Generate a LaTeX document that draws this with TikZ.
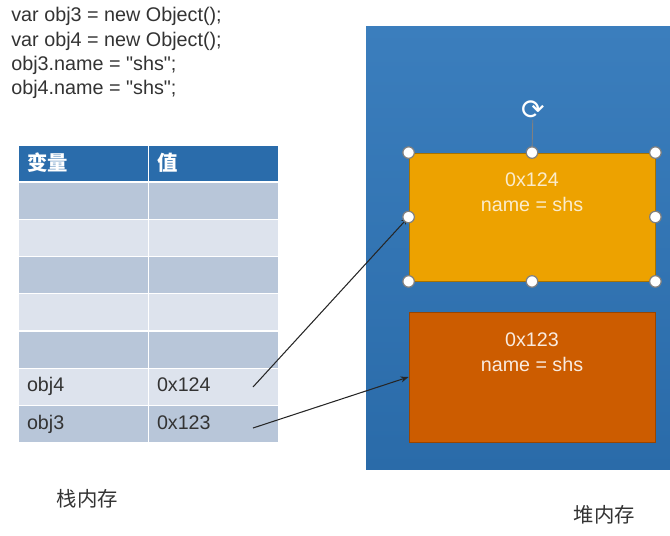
\documentclass[tikz,border=0pt]{standalone}
\usepackage{fontspec}
\setmainfont{Liberation Sans}
\newfontfamily\codefont{Liberation Sans}
\newfontfamily\cjk{Noto Sans CJK SC}
\newfontfamily\symb{DejaVu Sans}
\usepackage{xcolor}
\usetikzlibrary{arrows.meta,calc}
\definecolor{hdrblue}{HTML}{2A6CAB}
\definecolor{rowdark}{HTML}{B8C6D9}
\definecolor{rowlight}{HTML}{DDE3ED}
\definecolor{txtgray}{HTML}{333333}
\definecolor{heaptop}{HTML}{3B7EBD}
\definecolor{heapbot}{HTML}{2A6BA9}
\definecolor{objyellow}{HTML}{EDA200}
\definecolor{objorange}{HTML}{CC5C00}

\begin{document}
\begin{tikzpicture}[x=0.02cm,y=-0.02cm,
  cell/.style={inner xsep=1.6mm,inner ysep=0pt,text width=22.6mm,align=left,
            minimum height=7.2mm,text height=2.9mm,text depth=0.8mm,
            font=\fontsize{11.2}{12}\selectfont,text=txtgray},
  hdr/.style={cell,fill=hdrblue,text=white,text height=3.3mm,text depth=0.4mm,
            font=\cjk\fontsize{11.6}{12}\selectfont\bfseries},
  dk/.style={cell,fill=rowdark},
  lt/.style={cell,fill=rowlight},
  objbox/.style={minimum width=49.2mm,rectangle,inner sep=0pt},
  objtxt/.style={align=center,font=\fontsize{11.2}{14.2}\selectfont},
  hnd/.style={circle,draw=gray,fill=white,line width=0.7pt,minimum size=2.3mm,inner sep=0pt},
  lbl/.style={font=\cjk\fontsize{11.6}{12}\selectfont,text=txtgray},
  arr/.style={-{Stealth[length=1.6mm]},draw=black!85,line width=0.6pt}]
\useasboundingbox (0,0) rectangle (670,535);
\node[anchor=north west,inner sep=0pt,align=left,text=txtgray,
      font=\codefont\fontsize{11.25}{13.9}\selectfont] (code) at (11,7)
  {var obj3 = new Object();\\ var obj4 = new Object();\\
   obj3.name = "shs";\\ obj4.name = "shs";};
% stack table
\node[hdr,minimum height=7mm] (hvar) at (83.5,163.5) {变量};
\node[hdr,minimum height=7mm] (hval) at (213.5,163.5) {值};
\node[dk] (a1) at (83.5,201) {};   \node[dk] (b1) at (213.5,201) {};
\node[lt] (a2) at (83.5,238) {};   \node[lt] (b2) at (213.5,238) {};
\node[dk] (a3) at (83.5,275) {};   \node[dk] (b3) at (213.5,275) {};
\node[lt] (a4) at (83.5,312) {};   \node[lt] (b4) at (213.5,312) {};
\node[dk] (a5) at (83.5,349.5) {}; \node[dk] (b5) at (213.5,349.5) {};
\node[lt] (a6) at (83.5,386.5) {obj4}; \node[lt] (b6) at (213.5,386.5) {0x124};
\node[dk] (a7) at (83.5,424) {obj3};   \node[dk] (b7) at (213.5,424) {0x123};
\node[lbl] (stack) at (87.5,499) {栈内存};
% heap
\node[rectangle,top color=heaptop,bottom color=heapbot,
      minimum width=60.8mm,minimum height=88.8mm,inner sep=0pt] (heap) at (518,248) {};
\node[lbl] (heaplbl) at (604.5,515) {堆内存};
\node[objbox,fill=objyellow,draw=objyellow!70!black,line width=0.5pt,minimum height=25.6mm] (ob) at (532,217) {};
\node[objtxt,text=white!80!objyellow] (obt) at (532,192.5) {0x124\\ name = shs};
\node[objbox,fill=objorange,draw=objorange!75!black,line width=0.5pt,minimum height=26mm] (oa) at (532,377) {};
\node[objtxt,text=white!88!objorange] (oat) at (532,352.5) {0x123\\ name = shs};
% pointers
\coordinate (p4) at (253,387);
\coordinate (p3) at (253,428);
\draw[arr] (p4) -- (ob.west);
\draw[arr] (p3) -- (oa.west);
% selection handles
\node[font=\symb\fontsize{16}{16}\selectfont,text=white,inner sep=0pt] (rot) at (533,110) {⟳};
\draw[gray,line width=0.5pt] (rot) -- (ob.north);
\node[hnd] (h1) at (ob.north west) {};
\node[hnd] (h2) at (ob.north) {};
\node[hnd] (h3) at (ob.north east) {};
\node[hnd] (h4) at (ob.west) {};
\node[hnd] (h5) at (ob.east) {};
\node[hnd] (h6) at (ob.south west) {};
\node[hnd] (h7) at (ob.south) {};
\node[hnd] (h8) at (ob.south east) {};
\end{tikzpicture}
\end{document}
